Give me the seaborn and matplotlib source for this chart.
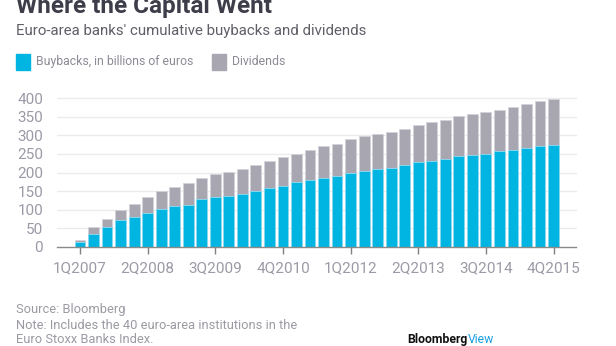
import matplotlib
matplotlib.use("Agg")
import matplotlib.pyplot as plt
import seaborn as sns
import numpy as np
import pandas as pd

# Quarter labels 1Q2007 .. 4Q2015
years = list(range(2007, 2016))
quarters = [f"{q}Q{y}" for y in years for q in range(1, 5)]

# Cumulative buybacks and dividends, billions of euros
buybacks = [13, 36, 54, 72, 81, 92, 101, 110, 114, 129, 135, 138, 143, 150, 159, 165, 174, 180,
            186, 191, 198, 204, 210, 213, 219, 228, 231, 237, 245, 248, 251, 257, 260, 266, 272, 275]
dividends = [6, 17, 22, 28, 34, 43, 49, 52, 57, 57, 60, 63, 67, 69, 73, 76, 75, 81,
             85, 85, 91, 93, 94, 96, 99, 99, 105, 105, 106, 109, 112, 112, 115, 118, 119, 121]

yticks = [0, 50, 100, 150, 200, 250, 300, 350, 400]
labeled_quarters = ["1Q2007", "2Q2008", "3Q2009", "4Q2010", "1Q2012", "2Q2013", "3Q2014", "4Q2015"]

BLUE = "#00b5e1"
GRAY = "#a8a6b1"
FONT = "Roboto"

sns.set_theme(style="white")
plt.rcParams["font.family"] = [FONT, "DejaVu Sans"]

df = pd.DataFrame({"quarter": quarters, "buybacks": buybacks, "dividends": dividends})
df["total"] = df["buybacks"] + df["dividends"]

fig = plt.figure(figsize=(6.16, 3.46), dpi=100)
ax = fig.add_axes([57 / 616, 1 - 247 / 346, (576 - 57) / 616, (247 - 98) / 346])

sns.barplot(data=df, x="quarter", y="total", color=GRAY, saturation=1, width=0.8,
            edgecolor="#d4d3da", linewidth=0.6, ax=ax, zorder=2)
sns.barplot(data=df, x="quarter", y="buybacks", color=BLUE, saturation=1, width=0.8,
            edgecolor="#8edcf2", linewidth=0.6, ax=ax, zorder=3)

ax.set_ylim(0, 400)
ax.set_xlim(-1.7, 36.66)
ax.set_xlabel("")
ax.set_ylabel("")

for v in yticks[1:]:
    ax.axhline(v, color="#ebebeb", lw=1, zorder=0, clip_on=False)

ax.set_yticks(yticks)
ax.set_yticklabels([str(v) for v in yticks], fontsize=11, color="#9b9aa6")
ax.tick_params(axis="y", length=0, pad=10)

pos = [quarters.index(q) for q in labeled_quarters]
ax.set_xticks(pos)
ax.set_xticklabels(labeled_quarters, fontsize=11, color="#9b9aa6")
ax.tick_params(axis="x", length=5, width=1, color="#808080", direction="out", pad=5, bottom=True)

for s in ["top", "right", "left"]:
    ax.spines[s].set_visible(False)
ax.spines["bottom"].set_color("#8a8a8a")
ax.spines["bottom"].set_linewidth(1)
ax.spines["bottom"].set_zorder(4)

# Header
fig.text(16 / 616, 1 - 13 / 346, "Where the Capital Went", fontsize=17.5, fontweight="bold",
         color="#3e3e4b", ha="left", va="baseline")
fig.text(16 / 616, 1 - 35 / 346, "Euro-area banks' cumulative buybacks and dividends",
         fontsize=10.8, color="#5f5f68", ha="left", va="baseline")

# Legend
fig.patches.append(plt.Rectangle((16 / 616, 1 - 70 / 346), 14 / 616, 16 / 346,
                                 transform=fig.transFigure, color=BLUE))
fig.text(36 / 616, 1 - 65 / 346, "Buybacks, in billions of euros", fontsize=8.8,
         color="#8c8b96", ha="left", va="baseline")
fig.patches.append(plt.Rectangle((212 / 616, 1 - 70 / 346), 14 / 616, 16 / 346,
                                 transform=fig.transFigure, color=GRAY))
fig.text(232 / 616, 1 - 65 / 346, "Dividends", fontsize=8.8,
         color="#8c8b96", ha="left", va="baseline")

# Footer
foot = "#9b9aa3"
fig.text(16 / 616, 1 - 313 / 346, "Source: Bloomberg", fontsize=9.3, color=foot, va="baseline")
fig.text(16 / 616, 1 - 329 / 346, "Note: Includes the 40 euro-area institutions in the",
         fontsize=9.3, color=foot, va="baseline")
fig.text(16 / 616, 1 - 343 / 346, "Euro Stoxx Banks Index.", fontsize=9.3, color=foot,
         va="baseline")

t1 = fig.text(407 / 616, 1 - 343 / 346, "Bloomberg", fontsize=8.8, fontweight="bold",
              color="#111111", va="baseline")
fig.canvas.draw()
bb = t1.get_window_extent()
fig.text(bb.x1 / 616 + 0.5 / 616, 1 - 343 / 346, "View", fontsize=8.8, color="#1aa0e0",
         va="baseline")

fig.savefig("out.png", dpi=100, facecolor="white")
